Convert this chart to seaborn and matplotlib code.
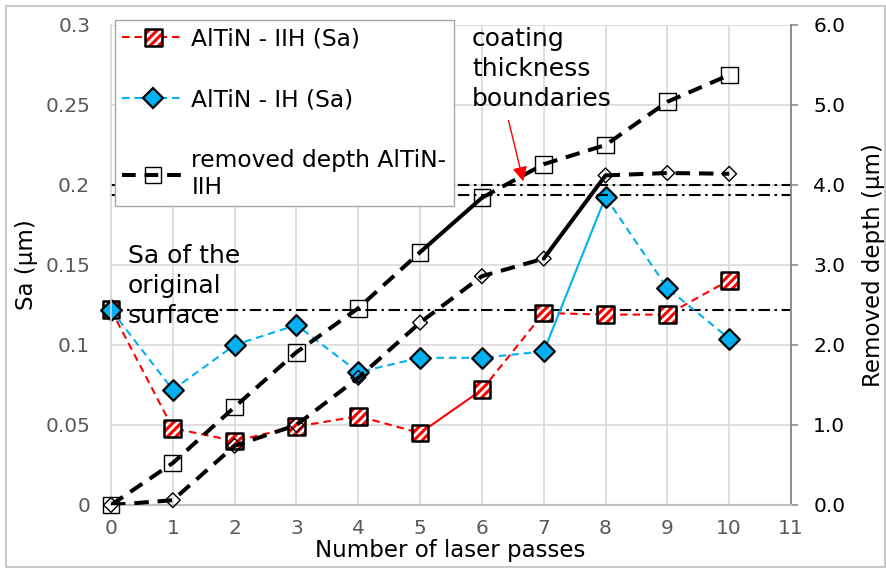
import matplotlib
matplotlib.use("Agg")
import numpy as np
import pandas as pd
import matplotlib.pyplot as plt
import seaborn as sns
from matplotlib.lines import Line2D
from matplotlib.patches import Rectangle
from matplotlib.legend_handler import HandlerTuple

# ---------------- data ----------------
passes = [0, 1, 2, 3, 4, 5, 6, 7, 8, 9, 10]
sa_iih = [0.122, 0.048, 0.040, 0.049, 0.0555, 0.045, 0.072, 0.120, 0.119, 0.119, 0.1405]
sa_ih = [0.122, 0.072, 0.100, 0.1125, 0.083, 0.092, 0.092, 0.096, 0.1925, 0.1355, 0.104]
depth_iih = [0.0, 0.525, 1.225, 1.91, 2.46, 3.16, 3.84, 4.26, 4.50, 5.04, 5.375]
depth_ih = [0.0, 0.06, 0.74, 1.00, 1.59, 2.28, 2.86, 3.08, 4.12, 4.15, 4.14]
sa_original = 0.122
coating_boundaries = [4.0, 3.87]

label_iih = "AlTiN - IIH (Sa)"
label_ih = "AlTiN - IH (Sa)"
label_depth = "removed depth AlTiN-\nIIH"
x_ticks = list(range(12))
y_left_ticks = [0, 0.05, 0.1, 0.15, 0.2, 0.25, 0.3]
y_left_labels = ["0", "0.05", "0.1", "0.15", "0.2", "0.25", "0.3"]
y_right_ticks = [0, 1, 2, 3, 4, 5, 6]
y_right_labels = ["0.0", "1.0", "2.0", "3.0", "4.0", "5.0", "6.0"]

# solid (non-dashed) segments, given as index pairs
solid_iih = (5, 6)
solid_ih = (7, 8)
solid_depth_iih = (5, 6)
solid_depth_ih = (7, 8)

# ---------------- style ----------------
RED = "#FF0000"
BLUE = "#00B0F0"
GRID = "#d9d9d9"
TICKC = "#595959"
W, H = 886, 572

sns.set_theme(style="white")
plt.rcParams["font.family"] = ["DejaVu Sans"]
plt.rcParams["text.color"] = "black"
plt.rcParams["axes.labelcolor"] = "black"
plt.rcParams["hatch.linewidth"] = 2.0

fig = plt.figure(figsize=(W / 100, H / 100), dpi=100)
L, R, T, B = 111, 791, 25, 505
ax = fig.add_axes([L / W, 1 - B / H, (R - L) / W, (B - T) / H])
ax2 = ax.twinx()


def draw_series(axis, y, color, lw, dash, solid, zorder):
    df = pd.DataFrame({"x": passes, "y": y})
    a, b = solid
    pieces = [(df.iloc[: a + 1], (0, dash)), (df.iloc[a: b + 1], "solid"), (df.iloc[b:], (0, dash))]
    for part, ls in pieces:
        if len(part) < 2:
            continue
        sns.lineplot(data=part, x="x", y="y", ax=axis, color=color, lw=lw,
                     linestyle=ls, sort=False, estimator=None, zorder=zorder,
                     legend=False)


# red IIH
draw_series(ax, sa_iih, RED, 1.5, (3.6, 2.4), solid_iih, 3)
red_fill = ax.scatter(passes, sa_iih, s=12 ** 2, marker="s", facecolor=RED,
                      edgecolor="white", hatch="////", linewidth=0, zorder=4,
                      clip_on=False)
red_edge = ax.scatter(passes, sa_iih, s=12 ** 2, marker="s", facecolor="none",
                      edgecolor="black", linewidth=1.8, zorder=4.1, clip_on=False)
# blue IH
draw_series(ax, sa_ih, BLUE, 1.5, (3.6, 2.4), solid_ih, 5)
ax.scatter(passes, sa_ih, s=10.5 ** 2, marker="D", facecolor=BLUE,
           edgecolor="black", linewidth=1.6, zorder=6, clip_on=False)

# reference line on Sa axis
ax.axhline(sa_original, color="black", lw=1.5, ls=(0, (5.5, 2.2, 1.2, 2.2)), zorder=2)

# removed depth series on right axis
draw_series(ax2, depth_iih, "black", 2.9, (3.6, 2.2), solid_depth_iih, 3)
ax2.scatter(passes, depth_iih, s=12 ** 2, marker="s", facecolor="none",
            edgecolor="black", linewidth=1.0, zorder=4, clip_on=False)
draw_series(ax2, depth_ih, "black", 2.9, (3.6, 2.2), solid_depth_ih, 3)
ax2.scatter(passes, depth_ih, s=7.5 ** 2, marker="D", facecolor="none",
            edgecolor="black", linewidth=1.0, zorder=4, clip_on=False)
for yb in coating_boundaries:
    ax2.axhline(yb, color="black", lw=1.5, ls=(0, (5.5, 2.2, 1.2, 2.2)), zorder=2)

# ---------------- axes ----------------
ax.set_xlim(0, 11)
ax.set_ylim(0, 0.3)
ax2.set_ylim(0, 6)
ax.set_xticks(x_ticks)
ax.set_yticks(y_left_ticks)
ax.set_yticklabels(y_left_labels)
ax2.set_yticks(y_right_ticks)
ax2.set_yticklabels(y_right_labels)
ax.grid(True, color=GRID, lw=1.2)
ax.set_axisbelow(True)

for a_ in (ax, ax2):
    a_.spines["top"].set_visible(False)
    a_.spines["left"].set_color(GRID)
    a_.spines["bottom"].set_color("#bfbfbf")
    a_.spines["right"].set_color("#8c8c8c")
    a_.spines["left"].set_linewidth(1.2)
    a_.spines["bottom"].set_linewidth(1.5)
    a_.spines["right"].set_linewidth(1.2)

ax.tick_params(axis="x", labelsize=14.5, labelcolor=TICKC, length=0, pad=10)
ax.tick_params(axis="y", labelsize=14.5, labelcolor=TICKC, length=0, pad=15)
ax2.tick_params(axis="y", labelsize=14.5, labelcolor="black", length=5,
                color="#8c8c8c", width=1.2, pad=11)

ax.set_xlabel("Number of laser passes", fontsize=16.5, color="black")
ax.set_ylabel("Sa (µm)", fontsize=16.5, color="black")
ax2.set_ylabel("Removed depth (µm)", fontsize=16.5, color="black")
ax.xaxis.set_label_coords(0.4985, -0.07)
ax.yaxis.set_label_coords(-0.107, 0.5)
ax2.yaxis.set_label_coords(1.104, 0.5)

# ---------------- annotations ----------------
fig.text(128 / W, 1 - 244 / H, "Sa of the\noriginal\nsurface", fontsize=18,
         va="top", ha="left", linespacing=1.32)
fig.text(472 / W, 1 - 27 / H, "coating\nthickness\nboundaries", fontsize=18,
         va="top", ha="left", linespacing=1.32)
ax2.annotate("", xy=(6.68, 4.01), xytext=(6.42, 4.84),
             arrowprops=dict(arrowstyle="-|>", color=RED, lw=1.0, mutation_scale=22),
             zorder=7)

# ---------------- legend ----------------
h_red_line = Line2D([], [], color=RED, lw=1.5, ls=(0, (3.6, 2.4)))
h_blue = Line2D([], [], color=BLUE, lw=1.5, ls=(0, (3.6, 2.4)), marker="D",
                markersize=10.5, markerfacecolor=BLUE, markeredgecolor="black",
                markeredgewidth=1.6)
h_depth = Line2D([], [], color="black", lw=2.9, ls=(0, (3.4, 2.2)), marker="s",
                 markersize=12, markerfacecolor="none", markeredgecolor="black",
                 markeredgewidth=1.0)
leg = ax2.legend([(h_red_line, red_fill, red_edge), h_blue, h_depth],
                 [label_iih, label_ih, label_depth],
                 handler_map={tuple: HandlerTuple(ndivide=1, pad=0)},
                 loc="upper left", bbox_to_anchor=(115 / W, 1 - 20 / H),
                 bbox_transform=fig.transFigure, borderaxespad=0,
                 fontsize=16.8, labelspacing=1.62, handlelength=2.65,
                 handletextpad=0.3, borderpad=0.32, frameon=True, fancybox=False,
                 framealpha=1, edgecolor="#a6a6a6", scatterpoints=1,
                 scatteryoffsets=[0.5], numpoints=1)
leg.get_frame().set_linewidth(1.0)
leg.set_zorder(10)

# figure border
fig.patches.append(Rectangle((6 / W, 5 / H), 879 / W, 561 / H, transform=fig.transFigure,
                             fill=False, edgecolor="#bfbfbf", lw=1.2))

fig.savefig("out.png", dpi=100)
